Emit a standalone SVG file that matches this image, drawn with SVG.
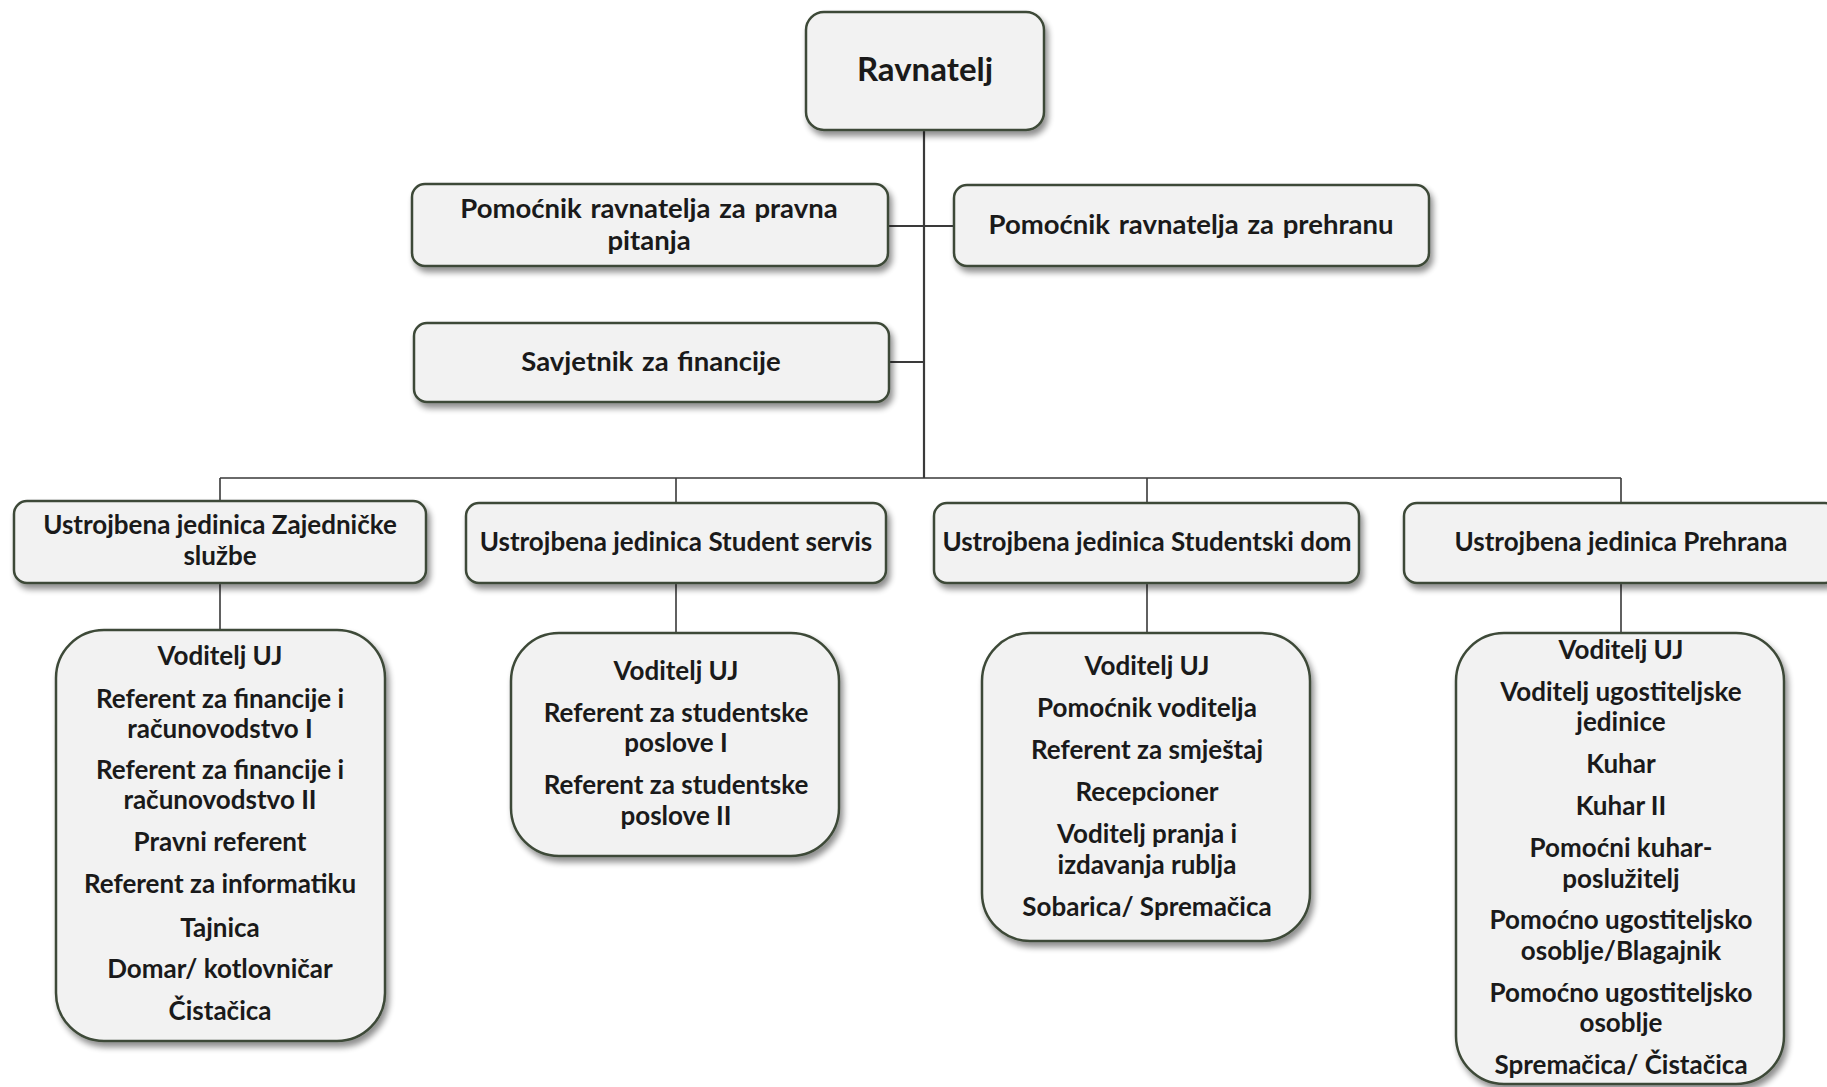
<svg xmlns="http://www.w3.org/2000/svg" width="1827" height="1087" viewBox="0 0 1827 1087">
<defs>
<filter id="sh" x="-10%" y="-10%" width="125%" height="130%">
<feGaussianBlur in="SourceAlpha" stdDeviation="3"/>
<feOffset dx="3" dy="5" result="b"/>
<feComponentTransfer><feFuncA type="linear" slope="0.45"/></feComponentTransfer>
<feMerge><feMergeNode/><feMergeNode in="SourceGraphic"/></feMerge>
</filter>
</defs>
<style>
.box{fill:#f2f2f2;stroke:#3e4a38;stroke-width:2.5;filter:url(#sh)}
.t{font-family:Lato,"Open Sans","Liberation Sans",sans-serif;font-weight:bold;fill:#1a1a1a;text-anchor:middle}
.s1{font-size:26px}
.s2{font-size:27.5px;word-spacing:2px}
.s0{font-size:33px}
.c{stroke:#3a3a3a;fill:none}
</style>
<rect width="1827" height="1087" fill="#ffffff"/>
<g id="connectors">
<path class="c" stroke-width="2.2" d="M924 130V478"/>
<path class="c" stroke-width="2" d="M888 226H954M889 362H924"/>
<path class="c" stroke-width="1.6" d="M220 478H1621M220 478V501M676 478V503M1147 478V503M1621 478V503"/>
<path class="c" stroke-width="1.6" d="M220 583V630M676 583V633M1147 583V633M1621 583V633"/>
</g>
<g id="ravnatelj">
<rect class="box" x="806" y="12" width="238" height="118" rx="18"/>
<text class="t s0" x="925" y="81">Ravnatelj</text>
</g>
<g id="pomocnik-pravna">
<rect class="box" x="412" y="184" width="476" height="82" rx="13"/>
<text class="t s2" x="649" y="218">Pomoćnik ravnatelja za pravna</text>
<text class="t s2" x="649" y="250">pitanja</text>
</g>
<g id="pomocnik-prehrana">
<rect class="box" x="954" y="185" width="475" height="81" rx="13"/>
<text class="t s2" x="1191" y="234">Pomoćnik ravnatelja za prehranu</text>
</g>
<g id="savjetnik">
<rect class="box" x="414" y="323" width="475" height="79" rx="13"/>
<text class="t s2" x="651" y="371">Savjetnik za financije</text>
</g>
<g id="uj-zajednicke">
<rect class="box" x="14" y="501" width="412" height="82" rx="13"/>
<text class="t s1" x="220" y="534">Ustrojbena jedinica Zajedničke</text>
<text class="t s1" x="220" y="565">službe</text>
</g>
<g id="uj-student-servis">
<rect class="box" x="466" y="503" width="420" height="80" rx="13"/>
<text class="t s1" x="676" y="551">Ustrojbena jedinica Student servis</text>
</g>
<g id="uj-studentski-dom">
<rect class="box" x="934" y="503" width="425" height="80" rx="13"/>
<text class="t s1" x="1147" y="551">Ustrojbena jedinica Studentski dom</text>
</g>
<g id="uj-prehrana">
<rect class="box" x="1404" y="503" width="434" height="80" rx="13"/>
<text class="t s1" x="1621" y="551">Ustrojbena jedinica Prehrana</text>
</g>
<g id="list-zajednicke">
<rect class="box" x="56" y="630" width="329" height="411" rx="48"/>
<text class="t s1" x="220" y="665">Voditelj UJ</text>
<text class="t s1" x="220" y="708">Referent za financije i</text>
<text class="t s1" x="220" y="738">računovodstvo I</text>
<text class="t s1" x="220" y="779">Referent za financije i</text>
<text class="t s1" x="220" y="809">računovodstvo II</text>
<text class="t s1" x="220" y="851">Pravni referent</text>
<text class="t s1" x="220" y="893">Referent za informatiku</text>
<text class="t s1" x="220" y="937">Tajnica</text>
<text class="t s1" x="220" y="978">Domar/ kotlovničar</text>
<text class="t s1" x="220" y="1020">Čistačica</text>
</g>
<g id="list-student-servis">
<rect class="box" x="511" y="633" width="328" height="223" rx="48"/>
<text class="t s1" x="676" y="680">Voditelj UJ</text>
<text class="t s1" x="676" y="722">Referent za studentske</text>
<text class="t s1" x="676" y="752">poslove I</text>
<text class="t s1" x="676" y="794">Referent za studentske</text>
<text class="t s1" x="676" y="825">poslove II</text>
</g>
<g id="list-studentski-dom">
<rect class="box" x="982" y="633" width="328" height="308" rx="48"/>
<text class="t s1" x="1147" y="675">Voditelj UJ</text>
<text class="t s1" x="1147" y="717">Pomoćnik voditelja</text>
<text class="t s1" x="1147" y="759">Referent za smještaj</text>
<text class="t s1" x="1147" y="801">Recepcioner</text>
<text class="t s1" x="1147" y="843">Voditelj pranja i</text>
<text class="t s1" x="1147" y="874">izdavanja rublja</text>
<text class="t s1" x="1147" y="916">Sobarica/ Spremačica</text>
</g>
<g id="list-prehrana">
<rect class="box" x="1456" y="633" width="328" height="451" rx="48"/>
<text class="t s1" x="1621" y="659">Voditelj UJ</text>
<text class="t s1" x="1621" y="701">Voditelj ugostiteljske</text>
<text class="t s1" x="1621" y="731">jedinice</text>
<text class="t s1" x="1621" y="773">Kuhar</text>
<text class="t s1" x="1621" y="815">Kuhar II</text>
<text class="t s1" x="1621" y="857">Pomoćni kuhar-</text>
<text class="t s1" x="1621" y="888">poslužitelj</text>
<text class="t s1" x="1621" y="929">Pomoćno ugostiteljsko</text>
<text class="t s1" x="1621" y="960">osoblje/Blagajnik</text>
<text class="t s1" x="1621" y="1002">Pomoćno ugostiteljsko</text>
<text class="t s1" x="1621" y="1032">osoblje</text>
<text class="t s1" x="1621" y="1074">Spremačica/ Čistačica</text>
</g>
</svg>
